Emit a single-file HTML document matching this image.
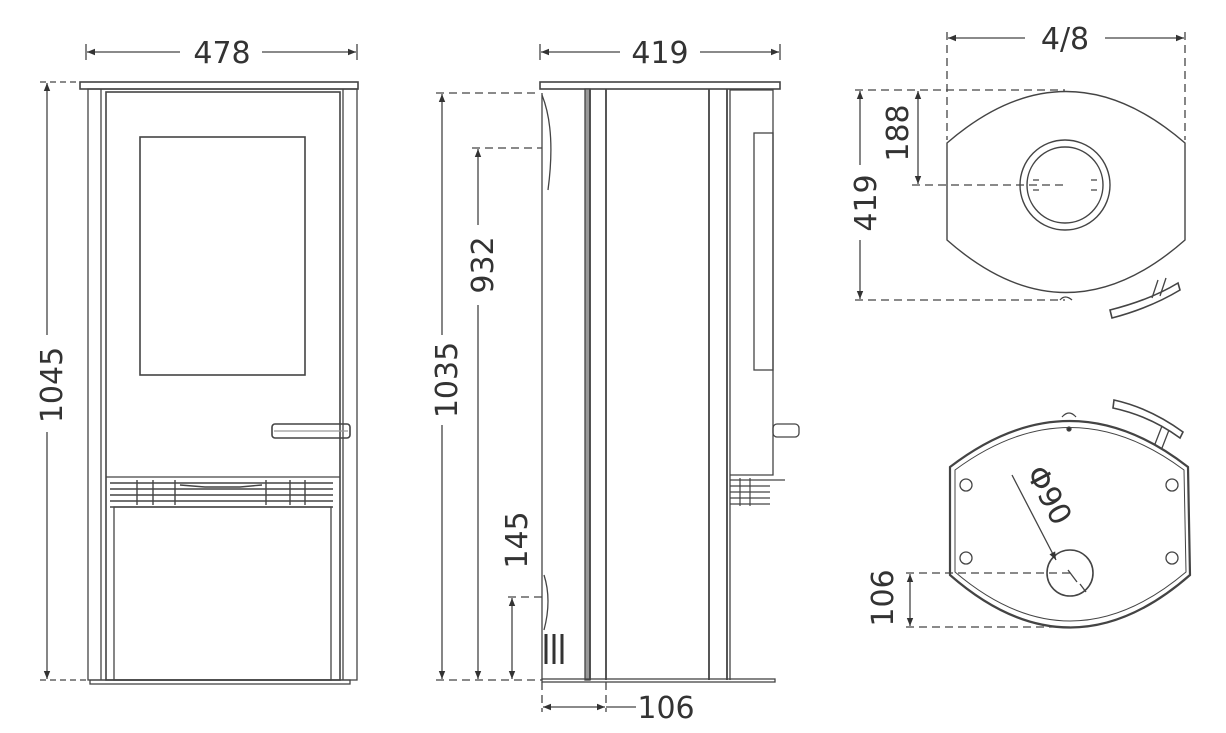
<!DOCTYPE html>
<html><head><meta charset="utf-8"><style>
html,body{margin:0;padding:0;background:#fff;}
svg{display:block}
text{font-family:"DejaVu Sans","Liberation Sans",sans-serif;fill:#333;font-size:30px}
</style></head><body>
<svg width="1226" height="733" viewBox="0 0 1226 733" xmlns="http://www.w3.org/2000/svg">
<defs>
<marker id="a" viewBox="0 0 10 10" refX="10" refY="5" markerWidth="10" markerHeight="8" orient="auto-start-reverse" markerUnits="userSpaceOnUse"><path d="M0,1 L10,5 L0,9 z" fill="#333"/></marker>
</defs>
<g stroke="#444" fill="none" stroke-width="1.3">
<!-- FRONT VIEW -->
<line x1="86" y1="44" x2="86" y2="60"/><line x1="357" y1="44" x2="357" y2="60"/>
<line x1="87" y1="52" x2="180" y2="52" marker-start="url(#a)"/>
<line x1="262" y1="52" x2="356" y2="52" marker-end="url(#a)"/>
<rect x="80" y="82" width="278" height="7" stroke-width="1.6"/>
<rect x="88" y="89" width="269" height="591"/>
<line x1="101" y1="89" x2="101" y2="680"/>
<line x1="343" y1="89" x2="343" y2="680"/>
<rect x="106" y="92" width="234" height="588" stroke-width="1.6"/>
<rect x="140" y="137" width="165" height="238" stroke-width="1.6"/>
<rect x="272" y="424" width="78" height="14" rx="3" stroke-width="1.6"/>
<line x1="274" y1="431" x2="348" y2="431" stroke="#999"/>
<line x1="106" y1="477" x2="340" y2="477"/>
<g stroke-width="1.4">
<line x1="110" y1="483" x2="333" y2="483"/><line x1="110" y1="489" x2="333" y2="489"/>
<line x1="110" y1="495" x2="333" y2="495"/><line x1="110" y1="501" x2="333" y2="501"/>
<line x1="110" y1="507" x2="333" y2="507"/>
<line x1="137" y1="480" x2="137" y2="505"/><line x1="153" y1="480" x2="153" y2="505"/><line x1="175" y1="480" x2="175" y2="505"/>
<line x1="266" y1="480" x2="266" y2="505"/><line x1="290" y1="480" x2="290" y2="505"/><line x1="305" y1="480" x2="305" y2="505"/>
<path d="M180,485 L205,487 L240,487 L262,485"/>
</g>
<rect x="114" y="507" width="217" height="173"/>
<rect x="90" y="680" width="260" height="4"/>
<line x1="40" y1="82" x2="80" y2="82" stroke-dasharray="6 4"/>
<line x1="40" y1="680" x2="88" y2="680" stroke-dasharray="6 4"/>
<line x1="47" y1="83" x2="47" y2="335" marker-start="url(#a)"/>
<line x1="47" y1="432" x2="47" y2="679" marker-end="url(#a)"/>

<!-- SIDE VIEW -->
<line x1="540" y1="44" x2="540" y2="60"/><line x1="780" y1="44" x2="780" y2="60"/>
<line x1="541" y1="52" x2="620" y2="52" marker-start="url(#a)"/>
<line x1="700" y1="52" x2="779" y2="52" marker-end="url(#a)"/>
<rect x="540" y="82" width="240" height="7" stroke-width="1.6"/>
<line x1="542" y1="93" x2="542" y2="680"/>
<path d="M542,95 Q556,130 548,190" />
<path d="M544,575 Q552,600 544,630"/>
<rect x="585" y="89" width="5" height="591" fill="#999"/>
<line x1="590" y1="89" x2="590" y2="680" stroke-width="1.8"/>
<line x1="606" y1="89" x2="606" y2="680" stroke-width="1.8"/>
<line x1="709" y1="89" x2="709" y2="680" stroke-width="1.8"/>
<line x1="727" y1="89" x2="727" y2="680" stroke-width="1.8"/>
<line x1="730" y1="89" x2="730" y2="680"/>
<path d="M730,90 L773,90 L773,475 L730,475"/>
<rect x="754" y="133" width="19" height="237"/>
<rect x="773" y="424" width="26" height="13" rx="4"/>
<g stroke-width="1.2">
<line x1="730" y1="480" x2="785" y2="480"/><line x1="730" y1="486" x2="770" y2="486"/>
<line x1="730" y1="492" x2="770" y2="492"/><line x1="730" y1="498" x2="770" y2="498"/>
<line x1="730" y1="504" x2="770" y2="504"/>
<line x1="740" y1="478" x2="740" y2="506"/><line x1="750" y1="478" x2="750" y2="506"/>
</g>
<g stroke-width="3" stroke="#333"><line x1="546" y1="634" x2="546" y2="664"/><line x1="554" y1="634" x2="554" y2="664"/><line x1="562" y1="634" x2="562" y2="664"/></g>
<rect x="542" y="679" width="233" height="3"/>
<g stroke-dasharray="8 5">
<line x1="436" y1="93" x2="540" y2="93"/>
<line x1="472" y1="148" x2="542" y2="148"/>
<line x1="436" y1="680" x2="542" y2="680"/>
<line x1="508" y1="597" x2="542" y2="597"/>
<line x1="542" y1="682" x2="542" y2="712"/>
<line x1="606" y1="682" x2="606" y2="712"/>
</g>
<line x1="442" y1="94" x2="442" y2="335" marker-start="url(#a)"/>
<line x1="442" y1="425" x2="442" y2="679" marker-end="url(#a)"/>
<line x1="478" y1="149" x2="478" y2="225" marker-start="url(#a)"/>
<line x1="478" y1="305" x2="478" y2="679" marker-end="url(#a)"/>
<line x1="512" y1="598" x2="512" y2="679" marker-start="url(#a)" marker-end="url(#a)"/>
<line x1="543" y1="707" x2="605" y2="707" marker-start="url(#a)" marker-end="url(#a)"/>
<line x1="606" y1="707" x2="636" y2="707"/>

<!-- TOP VIEW -->
<g stroke-dasharray="8 5">
<line x1="947" y1="32" x2="947" y2="140"/><line x1="1185" y1="32" x2="1185" y2="140"/>
<line x1="855" y1="90" x2="1065" y2="90"/>
<line x1="855" y1="300" x2="1065" y2="300"/>
<line x1="912" y1="185" x2="1065" y2="185"/>
</g>
<line x1="948" y1="38" x2="1025" y2="38" marker-start="url(#a)"/>
<line x1="1105" y1="38" x2="1184" y2="38" marker-end="url(#a)"/>
<path d="M947,143 Q1066,40 1185,143 L1185,240 Q1066,345 947,240 Z" stroke-width="1.4"/>
<circle cx="1065" cy="185" r="45" stroke-width="1.4"/>
<circle cx="1065" cy="185" r="38" stroke-width="1.4"/>
<path d="M1033,180 h6 M1033,190 h6 M1091,180 h6 M1091,190 h6"/>
<path d="M1060,300 q5,-6 12,0"/>
<path d="M1110,310 Q1150,300 1178,283 L1180,290 Q1150,308 1112,318 Z" stroke-width="1.6"/>
<path d="M1152,298 L1158,280 M1160,296 L1166,278"/>
<line x1="860" y1="91" x2="860" y2="165" marker-start="url(#a)"/>
<line x1="860" y1="240" x2="860" y2="299" marker-end="url(#a)"/>
<line x1="918" y1="91" x2="918" y2="184" marker-start="url(#a)" marker-end="url(#a)"/>

<!-- BOTTOM VIEW -->
<path d="M950,467 Q1070,375 1188,467 L1190,575 Q1070,680 950,575 Z" stroke-width="2.2"/>
<path d="M955,470 Q1070,385 1184,470 L1186,572 Q1070,670 955,572 Z" stroke-width="1"/>
<circle cx="1070" cy="573" r="23" stroke-width="1.6"/>
<path d="M1068,570 L1077,582 M1080,584 L1086,592"/>
<circle cx="966" cy="485" r="6"/><circle cx="1172" cy="485" r="6"/>
<circle cx="966" cy="558" r="6"/><circle cx="1172" cy="558" r="6"/>
<circle cx="1069" cy="429" r="2" fill="#333"/>
<path d="M1062,417 q7,-8 14,0"/>
<path d="M1114,400 Q1150,408 1183,432 L1180,438 Q1150,416 1113,408 Z" stroke-width="1.6"/>
<path d="M1155,444 L1162,426 M1162,448 L1169,430"/>
<line x1="1012" y1="475" x2="1056" y2="560" marker-end="url(#a)"/>
<g stroke-dasharray="8 5">
<line x1="906" y1="573" x2="1070" y2="573"/>
<line x1="906" y1="627" x2="1070" y2="627"/>
</g>
<line x1="910" y1="574" x2="910" y2="626" marker-start="url(#a)" marker-end="url(#a)"/>
</g>
<!-- labels -->
<text x="222" y="63" text-anchor="middle">478</text>
<text transform="translate(62,385) rotate(-90)" text-anchor="middle">1045</text>
<text x="660" y="63" text-anchor="middle">419</text>
<text transform="translate(457,380) rotate(-90)" text-anchor="middle">1035</text>
<text transform="translate(493,265) rotate(-90)" text-anchor="middle">932</text>
<text transform="translate(527,540) rotate(-90)" text-anchor="middle">145</text>
<text x="666" y="718" text-anchor="middle">106</text>
<text x="1065" y="49" text-anchor="middle">4/8</text>
<text transform="translate(876,203) rotate(-90)" text-anchor="middle">419</text>
<text transform="translate(908,133) rotate(-90)" text-anchor="middle">188</text>
<text transform="translate(893,598) rotate(-90)" text-anchor="middle">106</text>
<text transform="translate(1040,500) rotate(62)" text-anchor="middle">Φ90</text>
</svg>
</body></html>
